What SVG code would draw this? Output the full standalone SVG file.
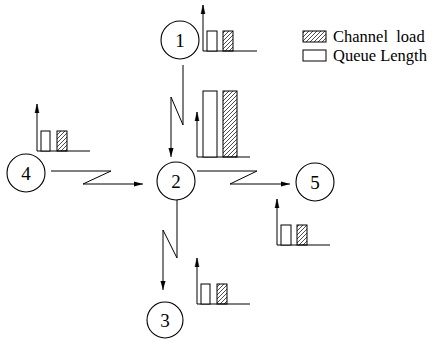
<svg xmlns="http://www.w3.org/2000/svg" width="437" height="341" viewBox="0 0 437 341">
<style>
.c{fill:#fff;stroke:#000;stroke-width:1.1}
.l{fill:none;stroke:#000;stroke-width:1}
.ax{fill:none;stroke:#000;stroke-width:1}
.q{fill:#fff;stroke:#000;stroke-width:1}
.h{fill:url(#hatch);stroke:#000;stroke-width:1}
.n{font-family:"Liberation Serif",serif;font-size:19px;text-anchor:middle;fill:#000}
.t{font-family:"Liberation Serif",serif;font-size:16.5px;fill:#000}
</style>
<defs>
<pattern id="hatch" patternUnits="userSpaceOnUse" width="4" height="4">
<path d="M-1,1 l2,-2 M0,4 l4,-4 M3,5 l2,-2" stroke="#000" stroke-width="0.7"/>
</pattern>
<marker id="arr" markerWidth="10" markerHeight="6" refX="9" refY="3" orient="auto" markerUnits="userSpaceOnUse">
<path d="M0,0.5 L9,3 L0,5.5 Z" fill="#000"/>
</marker>
<marker id="ax" markerWidth="10" markerHeight="6" refX="9" refY="3" orient="auto" markerUnits="userSpaceOnUse">
<path d="M0,1 L9,3 L0,5 Z" fill="#000" stroke="#000" stroke-width="0.5"/>
</marker>
</defs>
<g id="connectors">
<polyline class="l" points="183,65 183,125 171,97 171,157" marker-end="url(#arr)"/>
<polyline class="l" points="51,171 111,171 83,184 143,184" marker-end="url(#arr)"/>
<polyline class="l" points="197,171 257,171 230,184 290,184" marker-end="url(#arr)"/>
<polyline class="l" points="177,199 177,258 163,230 163,290" marker-end="url(#arr)"/>
</g>
<g id="node1">
<circle class="c" cx="180" cy="40" r="19"/>
<text class="n" x="180" y="47">1</text>
</g>
<g id="node2">
<circle class="c" cx="176" cy="181" r="19"/>
<text class="n" x="176" y="188">2</text>
</g>
<g id="node3">
<circle class="c" cx="165" cy="320" r="18"/>
<text class="n" x="165" y="327">3</text>
</g>
<g id="node4">
<circle class="c" cx="26" cy="173" r="19"/>
<text class="n" x="26" y="180">4</text>
</g>
<g id="node5">
<circle class="c" cx="315" cy="182" r="19"/>
<text class="n" x="315" y="189">5</text>
</g>
<g id="chart1">
<line class="ax" x1="203" y1="51" x2="203" y2="5" marker-end="url(#ax)"/>
<line class="ax" x1="203" y1="51" x2="257" y2="51"/>
<rect class="q" x="207" y="31" width="10" height="20"/>
<rect class="h" x="223" y="31" width="10" height="20"/>
</g>
<g id="chart2">
<line class="ax" x1="197" y1="157" x2="197" y2="112" marker-end="url(#ax)"/>
<line class="ax" x1="197" y1="157" x2="250" y2="157"/>
<rect class="q" x="203" y="91" width="14" height="66"/>
<rect class="h" x="223" y="91" width="14" height="66"/>
</g>
<g id="chart3">
<line class="ax" x1="197" y1="304" x2="197" y2="258" marker-end="url(#ax)"/>
<line class="ax" x1="197" y1="304" x2="250" y2="304"/>
<rect class="q" x="201" y="284" width="9" height="20"/>
<rect class="h" x="217" y="284" width="10" height="20"/>
</g>
<g id="chart4">
<line class="ax" x1="37" y1="151" x2="37" y2="104" marker-end="url(#ax)"/>
<line class="ax" x1="37" y1="151" x2="90" y2="151"/>
<rect class="q" x="41" y="131" width="9" height="20"/>
<rect class="h" x="57" y="131" width="10" height="20"/>
</g>
<g id="chart5">
<line class="ax" x1="277" y1="245" x2="277" y2="199" marker-end="url(#ax)"/>
<line class="ax" x1="277" y1="245" x2="330" y2="245"/>
<rect class="q" x="281" y="225" width="10" height="20"/>
<rect class="h" x="297" y="225" width="10" height="20"/>
</g>
<g id="legend">
<rect class="h" x="303" y="31" width="23" height="11"/>
<rect class="q" x="303" y="50" width="23" height="11"/>
<text class="t" x="333" y="42" xml:space="preserve">Channel  load</text>
<text class="t" x="333" y="61">Queue Length</text>
</g>
</svg>
